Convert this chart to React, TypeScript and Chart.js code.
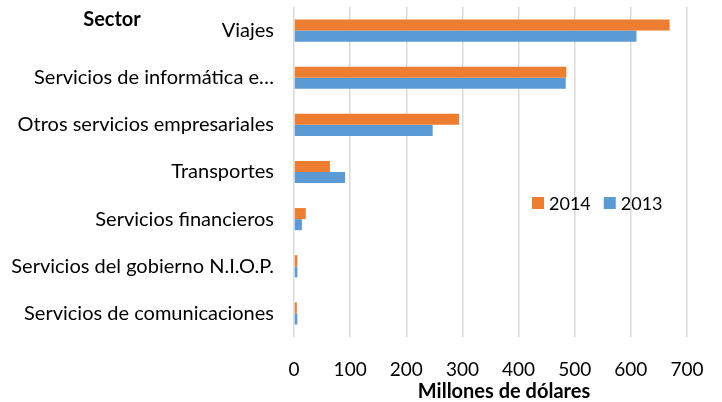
import { useEffect, useRef } from "react";
import { Chart, registerables } from "chart.js";

Chart.register(...registerables);

const categories = [
  "Viajes",
  "Servicios de informática e…",
  "Otros servicios empresariales",
  "Transportes",
  "Servicios financieros",
  "Servicios del gobierno N.I.O.P.",
  "Servicios de comunicaciones",
];
const values2014 = [669, 485, 294, 64, 21, 6, 5];
const values2013 = [610, 484, 247, 91, 14, 6, 6];
const seriesLabels = ["2014", "2013"];
const seriesColors = ["#ED7D31", "#5B9BD5"];
const xMin = 0;
const xMax = 700;
const xStep = 100;
const yAxisTitle = "Sector";
const xAxisTitle = "Millones de dólares";

const FONT = "Lato, 'Open Sans', sans-serif";

const overlayPlugin = {
  id: "overlay",
  afterDraw(chart: any) {
    const { ctx, chartArea } = chart;
    ctx.save();
    // legend inside plot
    ctx.font = `18px ${FONT}`;
    ctx.textBaseline = "middle";
    ctx.textAlign = "left";
    let x = chartArea.left + 238;
    const y = chartArea.top + 196;
    chart.data.datasets.forEach((ds: any) => {
      ctx.fillStyle = ds.backgroundColor;
      ctx.fillRect(x, y - 6, 12, 12);
      ctx.fillStyle = "#000";
      ctx.fillText(ds.label, x + 17, y + 1);
      x += 17 + ctx.measureText(ds.label).width + 13;
    });
    ctx.textBaseline = "alphabetic";
    ctx.textAlign = "center";
    // y axis title (Sector)
    ctx.font = `bold 20px ${FONT}`;
    ctx.fillText(yAxisTitle, chartArea.left - 182, chartArea.top + 19);
    // x axis title
    ctx.fillText(xAxisTitle, chartArea.left + 210, chartArea.bottom + 61);
    ctx.restore();
  },
};

export default function App() {
  const ref = useRef<HTMLCanvasElement | null>(null);
  useEffect(() => {
    document.body.style.margin = "0";
    const chart = new Chart(ref.current!, {
      type: "bar",
      data: {
        labels: categories,
        datasets: [
          { label: seriesLabels[0], data: values2014, backgroundColor: seriesColors[0] },
          { label: seriesLabels[1], data: values2013, backgroundColor: seriesColors[1] },
        ],
      },
      options: {
        indexAxis: "y",
        animation: false,
        responsive: false,
        maintainAspectRatio: false,
        datasets: { bar: { barPercentage: 1, categoryPercentage: 0.47 } },
        layout: { padding: { top: 7, right: 35, left: 0, bottom: 0 } },
        plugins: { legend: { display: false }, tooltip: { enabled: false } },
        scales: {
          x: {
            min: xMin,
            max: xMax,
            ticks: { stepSize: xStep, color: "#000", font: { family: FONT, size: 19 }, padding: 21 },
            grid: { color: "#d9d9d9", lineWidth: 1.5, drawTicks: false },
            border: { display: false },
            afterFit: (s: any) => {
              s.height = 65;
              s.paddingLeft = 0;
              s.paddingRight = 0;
            },
          },
          y: {
            ticks: { color: "#000", font: { family: FONT, size: 20 }, padding: 20, autoSkip: false },
            grid: { display: false, drawTicks: false },
            border: { display: false },
            afterFit: (s: any) => {
              s.width = 294;
              s.paddingTop = 0;
              s.paddingBottom = 0;
            },
          },
        },
      },
      plugins: [overlayPlugin],
    });
    return () => chart.destroy();
  }, []);
  return (
    <div style={{ width: 722, height: 402 }}>
      <canvas ref={ref} width={722} height={402} style={{ display: "block" }} />
    </div>
  );
}
